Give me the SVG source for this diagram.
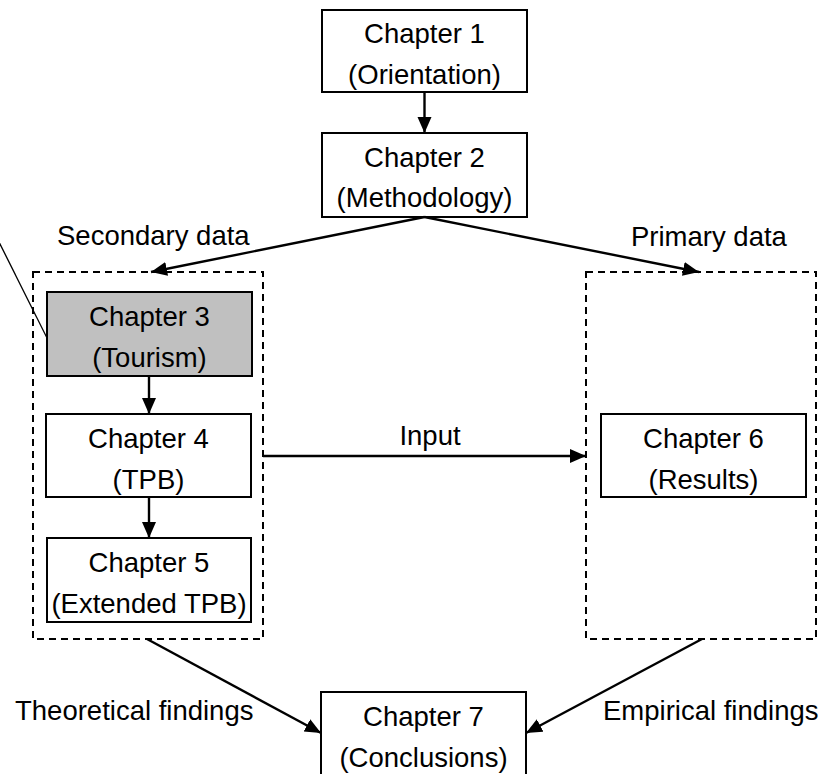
<svg xmlns="http://www.w3.org/2000/svg" width="825" height="774" viewBox="0 0 825 774">
  <style>
    .box { fill: #ffffff; stroke: #000000; stroke-width: 2; }
    .shaded { fill: #c0c0c0; stroke: #000000; stroke-width: 2; }
    .group { fill: none; stroke: #000000; stroke-width: 2; stroke-dasharray: 7 5; }
    .t { font-family: "Liberation Sans", Arial, sans-serif; font-size: 27.5px; fill: #000000; }
    .c { text-anchor: middle; }
    .arrow { fill: none; stroke: #000000; stroke-width: 2.4; marker-end: url(#head); }
    .thin { fill: none; stroke: #000000; stroke-width: 1.3; }
  </style>
  <defs>
    <marker id="head" markerUnits="userSpaceOnUse" markerWidth="18" markerHeight="15" refX="16" refY="7" orient="auto">
      <path d="M0,0 L16,7 L0,14 Z" fill="#000000"/>
    </marker>
  </defs>
  <rect width="825" height="774" fill="#ffffff"/>

  <!-- dashed groupings -->
  <g id="secondary-group">
    <rect class="group" x="33" y="272" width="230" height="367"/>
    <text class="t" x="57" y="245">Secondary data</text>
  </g>
  <g id="primary-group">
    <rect class="group" x="586" y="272" width="230" height="367"/>
    <text class="t" x="631" y="246">Primary data</text>
  </g>

  <!-- chapter nodes -->
  <g id="chapter1">
    <rect class="box" x="322" y="10" width="205" height="82"/>
    <text class="t c" x="424.5" y="43">Chapter 1</text>
    <text class="t c" x="424.5" y="84">(Orientation)</text>
  </g>
  <g id="chapter2">
    <rect class="box" x="322" y="133" width="205" height="84"/>
    <text class="t c" x="424.5" y="167">Chapter 2</text>
    <text class="t c" x="424.5" y="207">(Methodology)</text>
  </g>
  <g id="chapter3">
    <rect class="shaded" x="47" y="292" width="205" height="84"/>
    <text class="t c" x="149.5" y="326">Chapter 3</text>
    <text class="t c" x="149.5" y="367">(Tourism)</text>
  </g>
  <g id="chapter4">
    <rect class="box" x="46" y="414" width="205" height="83"/>
    <text class="t c" x="148.5" y="448">Chapter 4</text>
    <text class="t c" x="148.5" y="489">(TPB)</text>
  </g>
  <g id="chapter5">
    <rect class="box" x="47" y="538" width="204" height="84"/>
    <text class="t c" x="149" y="572">Chapter 5</text>
    <text class="t c" x="149" y="613">(Extended TPB)</text>
  </g>
  <g id="chapter6">
    <rect class="box" x="601" y="414" width="205" height="83"/>
    <text class="t c" x="703.5" y="448">Chapter 6</text>
    <text class="t c" x="703.5" y="489">(Results)</text>
  </g>
  <g id="chapter7">
    <rect class="box" x="321" y="692" width="205" height="90"/>
    <text class="t c" x="423.5" y="726">Chapter 7</text>
    <text class="t c" x="423.5" y="767">(Conclusions)</text>
  </g>

  <!-- connectors -->
  <g id="connectors">
    <line class="arrow" x1="424.5" y1="92" x2="424.5" y2="133"/>
    <line class="arrow" x1="424.5" y1="217" x2="151" y2="272"/>
    <line class="arrow" x1="424.5" y1="217" x2="699" y2="272"/>
    <line class="arrow" x1="149" y1="376" x2="149" y2="414"/>
    <line class="arrow" x1="149" y1="497" x2="149" y2="538"/>
    <line class="arrow" x1="263" y1="456" x2="586" y2="456"/>
    <line class="arrow" x1="147" y1="639" x2="321" y2="733"/>
    <line class="arrow" x1="702" y1="639" x2="526" y2="733"/>
    <line class="thin" x1="-1" y1="242" x2="47" y2="338"/>
    <text class="t c" x="430" y="445">Input</text>
    <text class="t" x="15" y="720">Theoretical findings</text>
    <text class="t" x="603" y="720">Empirical findings</text>
  </g>
</svg>
